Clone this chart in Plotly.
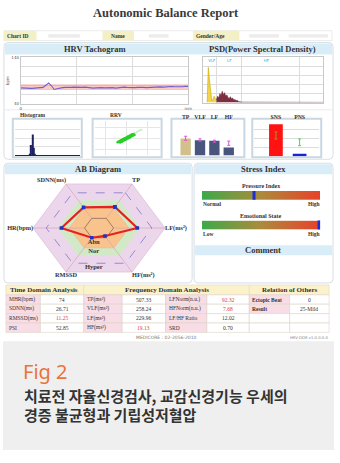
import math
import plotly.graph_objects as go

W, H = 340, 463
SERIF = "Liberation Serif"
SANS = "Noto Sans"
KR = "Noto Sans CJK KR"

# ---------------- data ----------------
report_title = "Autonomic Balance Report"
header_fields = ["Chart ID", "Name", "Gender/Age"]
panel_titles = ["HRV Tachogram", "PSD(Power Spectral Density)", "AB Diagram", "Stress Index", "Comment"]
box_titles = ["Histogram", "RRV"]

tacho_minutes = [0.0, 0.1, 0.2, 0.3, 0.4, 0.5, 0.6, 0.7, 0.8, 0.9,
                 1.0, 1.1, 1.2, 1.3, 1.4, 1.5, 1.6, 1.7, 1.8, 1.9,
                 2.0, 2.1, 2.2, 2.3, 2.4, 2.5, 2.6, 2.7, 2.8, 2.9,
                 3.0, 3.1, 3.2, 3.3, 3.4, 3.5, 3.6, 3.7, 3.8, 3.9,
                 4.0, 4.1, 4.2, 4.3, 4.4, 4.5, 4.6, 4.7, 4.8, 4.9,
                 5.0, 5.1, 5.2, 5.3, 5.4, 5.5, 5.6, 5.7, 5.8, 5.9, 6.0]
tacho_hr = [74.5, 74.0, 73.5, 73.0, 73.5, 74.0, 74.5, 74.0, 75.5, 80.0,
            85.0, 79.0, 71.0, 72.5, 74.5, 75.0, 75.5, 75.0, 75.5, 76.0,
            75.5, 75.0, 75.5, 76.0, 75.0, 74.5, 74.0, 74.5, 75.5, 75.0,
            74.5, 75.0, 75.5, 75.0, 74.0, 75.0, 75.5, 76.0, 75.5, 75.0,
            74.5, 75.0, 75.5, 76.0, 75.5, 75.0, 75.5, 76.0, 75.5, 76.0,
            76.5, 76.0, 77.0, 76.5, 77.5, 77.0, 76.5, 77.5, 77.0, 78.0, 77.5]
hr_band = [71, 81]
tacho_tick_text = ["0", "", "", "min"]

psd_freq = [0.000, 0.005, 0.010, 0.015, 0.020, 0.025, 0.030, 0.035, 0.040,
            0.045, 0.050, 0.055, 0.060, 0.065, 0.070, 0.075, 0.080, 0.085, 0.090,
            0.095, 0.100, 0.105, 0.110, 0.115, 0.120, 0.125, 0.130, 0.135, 0.140,
            0.145, 0.150,
            0.16, 0.17, 0.18, 0.19, 0.20, 0.21, 0.22, 0.23, 0.24, 0.25,
            0.26, 0.27, 0.28, 0.29, 0.30, 0.31, 0.32, 0.33, 0.34, 0.35,
            0.36, 0.37, 0.38, 0.39, 0.40, 0.41, 0.42, 0.43, 0.44, 0.45,
            0.46, 0.47, 0.48, 0.49, 0.50]
psd_power = [0, 78, 50, 18, 4, 7, 14, 9, 6,
             14, 10, 20, 15, 25, 17, 22, 14, 17, 11,
             9, 13, 8, 10, 5, 7, 4, 5, 2, 2,
             1, 1,
             1, 0.5, 1, 1.5, 0.5, 1, 0.5, 1, 2, 1,
             0.5, 1, 1, 0.5, 1.5, 1, 0.5, 1, 2, 1,
             0.5, 1, 0.5, 1, 0.5, 0.5, 1, 0.5, 0.5, 1,
             0.5, 0.5, 0.5, 0.5, 0.5]
psd_band_edges = [0.0, 0.04, 0.15, 0.4]
psd_band_names = ["VLF", "LF", "HF"]

hist_rr = [760, 780, 800, 820, 840]
hist_count = [4, 30, 60, 22, 3]

rrv_rr = [760, 768, 775, 782, 790, 798, 805, 812, 820, 828, 835, 840, 832, 825, 818,
          810, 802, 795, 788, 780, 772, 765, 770, 778, 786, 794, 802, 810, 818, 826, 834]
rrv_rr_faint = [842, 850, 858, 866, 874, 880]

spectral_names = ["TP", "VLF", "LF", "HF"]
spectral_power = [507.33, 258.24, 229.96, 19.13]
spectral_ref_low = [275, 190, 132, 41]
spectral_ref_high = [1200, 457, 275, 195]

ans_names = ["SNS", "PNS"]
ans_values = [3.6, 0.3]
ans_ref_low = [1.95, 1.2]
ans_ref_high = [2.75, 1.95]

radar_axes = ["TP", "LF(ms²)", "HF(ms²)", "RMSSD", "HR(bpm)", "SDNN(ms)"]
radar_values = [0.48, 0.58, 0.18, 0.22, 0.57, 0.47]
radar_zones = ["Abn", "Nor", "Hyper"]

pressure_index = 44
emotional_state = 99
stress_titles = ["Pressure Index", "Emotional State"]
pressure_ends = ["Normal", "High"]
emotion_ends = ["Low", "High"]

table_groups = ["Time Domain Analysis", "Frequency Domain Analysis", "Relation of Others"]
time_labels = ["MHR(bpm)", "SDNN(ms)", "RMSSD(ms)", "PSI"]
time_values = ["74", "26.71", "11.25", "52.85"]
time_flag = [False, False, True, False]
freq_labels = ["TP(ms²)", "VLF(ms²)", "LF(ms²)", "HF(ms²)"]
freq_values = ["507.33", "258.24", "229.96", "19.13"]
freq_flag = [False, False, False, True]
ratio_labels = ["LFNorm(n.u.)", "HFNorm(n.u.)", "LF/HF Ratio", "SRD"]
ratio_values = ["92.32", "7.68", "12.02", "0.70"]
ratio_flag = [True, True, False, False]
rel_labels = ["Ectopic Beat", "Result", "", ""]
rel_values = ["0", "25-Mild", "", ""]

footer_left = "MEDICORE : 02-2056-2010"
footer_right = "HRV-DDR v1.0.0.0.0"
fig_label = "Fig 2"
caption_lines = ["치료전 자율신경검사, 교감신경기능 우세의", "경증 불균형과 기립성저혈압"]


# ---------------- helpers ----------------
def fx(x):
    return x / W


def fy(y):
    return 1 - y / H


def dx(a, b):
    return [fx(a), fx(b)]


def dy(top, bottom):
    return [fy(bottom), fy(top)]


shapes = []
annotations = []


def rect(x0, y0, x1, y1, fill=None, line=None, lw=0.8):
    shapes.append(dict(type="rect", xref="paper", yref="paper", layer="below",
                       x0=fx(x0), x1=fx(x1), y0=fy(y1), y1=fy(y0),
                       fillcolor=fill or "rgba(0,0,0,0)",
                       line=dict(color=line or "rgba(0,0,0,0)", width=lw if line else 0)))


def rrect(x0, y0, x1, y1, r=4, fill="white", line="#d3dbe2", lw=0.9):
    rx, ry = r / W, r / H
    X0, X1, T, B = fx(x0), fx(x1), fy(y0), fy(y1)
    p = (f"M{X0+rx},{T} L{X1-rx},{T} Q{X1},{T} {X1},{T-ry} L{X1},{B+ry} Q{X1},{B} {X1-rx},{B} "
         f"L{X0+rx},{B} Q{X0},{B} {X0},{B+ry} L{X0},{T-ry} Q{X0},{T} {X0+rx},{T} Z")
    shapes.append(dict(type="path", path=p, xref="paper", yref="paper", layer="below",
                       fillcolor=fill, line=dict(color=line, width=lw)))


def hline(x0, x1, y, color="#e2e2e2", lw=0.8):
    shapes.append(dict(type="line", xref="paper", yref="paper", layer="below",
                       x0=fx(x0), x1=fx(x1), y0=fy(y), y1=fy(y), line=dict(color=color, width=lw)))


def vline(x, y0, y1, color="#e2e2e2", lw=0.8):
    shapes.append(dict(type="line", xref="paper", yref="paper", layer="below",
                       x0=fx(x), x1=fx(x), y0=fy(y0), y1=fy(y1), line=dict(color=color, width=lw)))


def txt(x, y, s, size, color="#333", bold=False, family=SERIF, xanchor="center", yanchor="middle"):
    annotations.append(dict(x=fx(x), y=fy(y), xref="paper", yref="paper",
                            text=f"<b>{s}</b>" if bold else s, showarrow=False,
                            font=dict(family=family, size=size, color=color),
                            xanchor=xanchor, yanchor=yanchor, borderpad=0))


def axis(domain, rng=None, **kw):
    d = dict(domain=domain, showgrid=False, zeroline=False, showticklabels=False,
             ticks="", fixedrange=True)
    if rng is not None:
        d["range"] = rng
    d.update(kw)
    return d


fig = go.Figure()

# ---------------- page furniture ----------------
txt(167, 10, report_title, 12.5, color="#3a3a3a", bold=True)

# header row
rect(3, 28, 336, 38, fill="white", line="#dedede", lw=0.6)
rect(3, 28, 36, 38, fill="#f3f0c6")
rect(103, 28, 135, 38, fill="#f3f0c6")
rect(195, 28, 242, 38, fill="#f3f0c6")
for (a, b) in [(48, 80), (150, 170), (252, 282), (292, 332)]:
    rect(a, 31.5, b, 35, fill="#ececec")
txt(5, 33, header_fields[0], 5.5, bold=True, xanchor="left")
txt(119, 33, header_fields[1], 5.5, bold=True)
txt(197, 33, header_fields[2], 5.5, bold=True, xanchor="left")

# panel 1
rrect(3, 40, 337, 158)
rect(4, 41, 336, 52, fill="#d9edf8")
txt(95, 46.5, panel_titles[0], 8.5, bold=True)
txt(265, 46.5, panel_titles[1], 8.5, bold=True)
hline(4, 336, 108, color="#e4e4e4")

# sub boxes
for (a, b) in [(12, 82), (93, 163), (173, 247), (255, 325)]:
    rect(a, 117, b, 156, fill="white", line="#c9d7e3", lw=2)
txt(32, 113, box_titles[0], 5.5, bold=True)
txt(117, 113, box_titles[1], 5.5, bold=True)

# panel 2
rrect(3, 162, 194, 283)
rect(4, 163, 193, 173, fill="#d9edf8")
txt(98, 167.5, panel_titles[2], 8.5, bold=True)
rrect(196, 162, 337, 283)
rect(197, 163, 336, 173, fill="#d9edf8")
txt(266, 167.5, panel_titles[3], 8.5, bold=True)
rect(197, 245, 336, 255, fill="#d9edf8")
txt(266, 250, panel_titles[4], 8.5, bold=True)

# stress texts
txt(264, 185, stress_titles[0], 6, bold=True)
txt(204, 203.5, pressure_ends[0], 5.5, bold=True, xanchor="left")
txt(325, 203.5, pressure_ends[1], 5.5, bold=True, xanchor="right")
txt(264, 215, stress_titles[1], 6, bold=True)
txt(204, 233.5, emotion_ends[0], 5.5, bold=True, xanchor="left")
txt(325, 233.5, emotion_ends[1], 5.5, bold=True, xanchor="right")

# ---------------- table (cells drawn as shapes + text) ----------------
col_edges = [5, 40, 84, 123, 167, 209, 252, 293, 333]
row_edges = [295, 304.5, 314, 323.5, 333]
BORDER = "#ddd3c8"
PINK = "#f8dde6"
RED = "#e23b3b"
DARK = "#333"

rect(5, 285, 333, 295, fill="#fbf2c9", line=BORDER, lw=0.6)
vline(84, 285, 295, color=BORDER, lw=0.6)
vline(252, 285, 295, color=BORDER, lw=0.6)
txt(44, 290, table_groups[0], 7, bold=True)
txt(168, 290, table_groups[1], 7, bold=True)
txt(293, 290, table_groups[2], 7, bold=True)

columns = [
    (time_labels, None, True), (time_values, time_flag, False),
    (freq_labels, None, True), (freq_values, freq_flag, False),
    (ratio_labels, None, True), (ratio_values, ratio_flag, False),
    (rel_labels, None, True), (rel_values, None, False),
]
for c, (vals, flags, is_label) in enumerate(columns):
    x0, x1 = col_edges[c], col_edges[c + 1]
    for r, v in enumerate(vals):
        y0, y1 = row_edges[r], row_edges[r + 1]
        fill = PINK if (is_label and v != "") or (is_label and c < 6) else "white"
        rect(x0, y0, x1, y1, fill=fill, line=BORDER, lw=0.6)
        if v == "":
            continue
        color = RED if (flags is not None and flags[r]) else DARK
        bold = c == 6
        if is_label:
            txt(x0 + 2, (y0 + y1) / 2, v, 5.5, color=color, bold=bold, xanchor="left")
        else:
            txt((x0 + x1) / 2, (y0 + y1) / 2, v, 5.5, color=color)

# footer
txt(168, 338, footer_left, 4.5, color="#777", family="DejaVu Sans")
txt(333, 338, footer_right, 3.8, color="#888", family="DejaVu Sans", xanchor="right")

# caption
rect(2, 342, 338, 452, fill="#efefef")
txt(21, 373, fig_label, 20, color="#e8743b", family=SANS, xanchor="left")
txt(22, 397, caption_lines[0], 15, color="#333", family=KR, xanchor="left", bold=True)
txt(22, 416, caption_lines[1], 15, color="#333", family=KR, xanchor="left", bold=True)

# ---------------- tachogram ----------------
fig.add_trace(go.Scatter(x=[tacho_minutes[0], tacho_minutes[-1]], y=[hr_band[0]] * 2, mode="lines",
                         line=dict(color="rgba(240,130,120,0.6)", width=0.6), xaxis="x", yaxis="y",
                         hoverinfo="skip"))
fig.add_trace(go.Scatter(x=[tacho_minutes[0], tacho_minutes[-1]], y=[hr_band[1]] * 2, mode="lines",
                         fill="tonexty", fillcolor="rgba(245,160,150,0.55)",
                         line=dict(color="rgba(240,130,120,0.6)", width=0.6), xaxis="x", yaxis="y",
                         hoverinfo="skip"))
fig.add_trace(go.Scatter(x=tacho_minutes, y=tacho_hr, mode="lines",
                         line=dict(color="#6f5fd6", width=1.1), xaxis="x", yaxis="y"))

# ---------------- PSD ----------------
psd_colors = [("#f2d54a", "#c9a800"), ("#7d2f42", "#6a2436"), ("#5a3a48", "#5a3a48")]
band_hi = [psd_band_edges[1], psd_band_edges[2], psd_freq[-1]]
for i, name in enumerate(psd_band_names):
    lo, hi = psd_band_edges[i], band_hi[i]
    xs = [f for f in psd_freq if lo <= f <= hi]
    ys = [p for f, p in zip(psd_freq, psd_power) if lo <= f <= hi]
    fig.add_trace(go.Scatter(x=xs, y=ys, mode="lines", fill="tozeroy",
                             fillcolor=psd_colors[i][0], line=dict(color=psd_colors[i][1], width=0.6),
                             xaxis="x2", yaxis="y2", name=name))
label_hi = psd_band_edges[1:] + [psd_band_edges[-1]]
band_mid = [(psd_band_edges[i] + (psd_band_edges[i + 1] if i < 2 else 0.36)) / 2 for i in range(3)]
fig.add_trace(go.Scatter(x=band_mid, y=[93] * 3, mode="text", text=psd_band_names,
                         textfont=dict(family="DejaVu Sans", size=4, color="#2aa6d8"),
                         xaxis="x2", yaxis="y2", cliponaxis=False))

# ---------------- histogram ----------------
fig.add_trace(go.Bar(x=hist_rr, y=hist_count, width=20, marker=dict(color="#1c2262", line=dict(width=0)),
                     xaxis="x3", yaxis="y3"))

# ---------------- RRV ----------------
fig.add_trace(go.Scatter(x=rrv_rr_faint[:-1], y=rrv_rr_faint[1:], mode="markers",
                         marker=dict(color="#bfeebf", size=2), xaxis="x4", yaxis="y4"))
fig.add_trace(go.Scatter(x=rrv_rr[:-1], y=rrv_rr[1:], mode="markers",
                         marker=dict(color="#27cf27", size=2.6), xaxis="x4", yaxis="y4"))

# ---------------- spectral bars ----------------
idx4 = list(range(len(spectral_names)))
fig.add_trace(go.Bar(x=idx4, y=spectral_power, width=0.72,
                     marker=dict(color=["#d3bf8a", "#4a557e", "#4a557e", "#4a557e"], line=dict(width=0)),
                     xaxis="x5", yaxis="y5"))
fig.add_trace(go.Scatter(x=idx4, y=spectral_ref_high, mode="markers",
                         marker=dict(color="rgba(0,0,0,0)", size=1),
                         error_y=dict(type="data", symmetric=False, array=[0] * 4,
                                      arrayminus=[h - l for h, l in zip(spectral_ref_high, spectral_ref_low)],
                                      color="#e24ee0", thickness=1, width=1.5),
                         xaxis="x5", yaxis="y5"))

# ---------------- SNS / PNS ----------------
fig.add_trace(go.Bar(x=[0, 1], y=ans_values, width=0.58,
                     marker=dict(color=["#ff1212", "#1a22d2"], line=dict(width=0)),
                     xaxis="x6", yaxis="y6"))
for i, c in enumerate(["#a8902a", "#4ad84a"]):
    fig.add_trace(go.Scatter(x=[i], y=[ans_ref_high[i]], mode="markers",
                             marker=dict(color="rgba(0,0,0,0)", size=1),
                             error_y=dict(type="data", symmetric=False, array=[0],
                                          arrayminus=[ans_ref_high[i] - ans_ref_low[i]],
                                          color=c, thickness=1, width=1.5),
                             xaxis="x6", yaxis="y6"))

# ---------------- AB diagram (radar) ----------------
angles = [math.radians(60 - 60 * i) for i in range(len(radar_axes))]


def hexagon(r):
    xs = [r * math.cos(a) for a in angles] + [r * math.cos(angles[0])]
    ys = [r * math.sin(a) for a in angles] + [r * math.sin(angles[0])]
    return xs, ys


rings = [(1.0, "#ecd6eb", "#dcbcd8"), (0.62, "#d2e9c8", "#d2e9c8"), (0.45, "#f9c38e", "#f3b57e")]
for r, fc, lc in rings:
    hx, hy = hexagon(r)
    fig.add_trace(go.Scatter(x=hx, y=hy, mode="lines", fill="toself", fillcolor=fc,
                             line=dict(color=lc, width=0.7), xaxis="x7", yaxis="y7", hoverinfo="skip"))
for a in angles:
    fig.add_trace(go.Scatter(x=[0.22 * math.cos(a), math.cos(a)], y=[0.22 * math.sin(a), math.sin(a)],
                             mode="lines", line=dict(color="#d9a3b6", width=0.7),
                             xaxis="x7", yaxis="y7", hoverinfo="skip"))
hx, hy = hexagon(0.8)
fig.add_trace(go.Scatter(x=hx, y=hy, mode="lines", line=dict(color="#7468c6", width=0.7, dash="dash"),
                         xaxis="x7", yaxis="y7", hoverinfo="skip"))
hx, hy = hexagon(0.22)
fig.add_trace(go.Scatter(x=hx, y=hy, mode="lines", line=dict(color="#8c6a58", width=0.8),
                         xaxis="x7", yaxis="y7", hoverinfo="skip"))
zone_r = [(0.22 + 0.45) / 2, (0.45 + 0.62) / 2, (0.8 + 1.0) / 2]
fig.add_trace(go.Scatter(x=[-0.08] * 3, y=[-r * math.sin(math.radians(60)) for r in zone_r], mode="text",
                         text=[f"<b>{z}</b>" for z in radar_zones],
                         textfont=dict(family=SERIF, size=6.5, color="#333"),
                         xaxis="x7", yaxis="y7", cliponaxis=False))
px_ = [v * math.cos(a) for v, a in zip(radar_values, angles)]
py_ = [v * math.sin(a) for v, a in zip(radar_values, angles)]
fig.add_trace(go.Scatter(x=px_ + [px_[0]], y=py_ + [py_[0]], mode="lines+markers",
                         line=dict(color="#e4221e", width=2.2),
                         marker=dict(symbol="square", size=3.6, color="#2232c8"),
                         xaxis="x7", yaxis="y7"))
lab_pos = ["top right", "middle right", "bottom right", "bottom center", "middle left", "top left"]
fig.add_trace(go.Scatter(x=[math.cos(a) for a in angles], y=[math.sin(a) for a in angles],
                         mode="text", text=[f"<b>{s}</b>" for s in radar_axes], textposition=lab_pos,
                         textfont=dict(family=SERIF, size=6.3, color="#333"),
                         xaxis="x7", yaxis="y7", cliponaxis=False))

# ---------------- stress gradient bars ----------------
grad_scale = [[0, "#3da94a"], [0.5, "#ad8a3a"], [1, "#e9402a"]]
for xa, ya, val in [("x8", "y8", pressure_index), ("x9", "y9", emotional_state)]:
    fig.add_trace(go.Heatmap(z=[[0, 1], [0, 1]], x=[0, 100], y=[0, 1], zsmooth="best",
                             colorscale=grad_scale, showscale=False, xaxis=xa, yaxis=ya, hoverinfo="skip"))
    fig.add_trace(go.Scatter(x=[val, val], y=[-0.08, 1.08], mode="lines",
                             line=dict(color="#1b2fd6", width=3), xaxis=xa, yaxis=ya, cliponaxis=False))

# ---------------- layout ----------------
GRID = "#dcdcdc"
fig.update_layout(
    width=W, height=H, margin=dict(l=0, r=0, t=0, b=0),
    paper_bgcolor="white", plot_bgcolor="rgba(0,0,0,0)", showlegend=False,
    shapes=shapes, annotations=annotations,
    xaxis=axis(dx(20, 190), [0, 6], anchor="y", showgrid=True, gridcolor=GRID, gridwidth=0.7,
               tickvals=[0, 2, 4, 6], ticktext=tacho_tick_text, showticklabels=True,
               tickfont=dict(size=4, color="#555", family="DejaVu Sans"),
               showline=True, mirror=True, linecolor="#c8c8c8", linewidth=0.8),
    yaxis=axis(dy(55, 102), [40, 140], anchor="x", showgrid=True, gridcolor=GRID, gridwidth=0.7,
               tickvals=[40, 60, 80, 100, 120, 140], ticktext=["40", "", "", "", "", "140"],
               showticklabels=True, tickfont=dict(size=4, color="#555", family="DejaVu Sans"),
               title=dict(text="bpm", font=dict(size=4, color="#555", family="DejaVu Sans"), standoff=1),
               showline=True, mirror=True, linecolor="#c8c8c8", linewidth=0.8),
    xaxis2=axis(dx(205, 327), [-0.018, 0.5], anchor="y2", showgrid=True, gridcolor=GRID, gridwidth=0.7,
                tickvals=psd_band_edges[1:], showline=True, mirror=True, linecolor="#c8c8c8", linewidth=0.8),
    yaxis2=axis(dy(55, 100.7), [0, 100], anchor="x2", showgrid=True, gridcolor=GRID, gridwidth=0.7, dtick=20,
                showline=True, mirror=True, linecolor="#c8c8c8", linewidth=0.8),
    xaxis3=axis(dx(14, 80), [500, 1600], anchor="y3", showline=True, linecolor="#1c2262", linewidth=1.2),
    yaxis3=axis(dy(119, 154), [0, 100], anchor="x3", showgrid=True, gridcolor="#e2e2e2", gridwidth=0.7, dtick=25),
    xaxis4=axis(dx(95, 161), [650, 960], anchor="y4", showgrid=True, gridcolor="#e6e6e6", gridwidth=0.6, dtick=100),
    yaxis4=axis(dy(119, 154), [650, 960], anchor="x4", showgrid=True, gridcolor="#e6e6e6", gridwidth=0.6, dtick=100),
    xaxis5=axis(dx(175, 245), [-0.85, 3.95], anchor="y5", side="top", tickvals=idx4,
                ticktext=[f"<b>{s}</b>" for s in spectral_names], showticklabels=True,
                tickfont=dict(family=SERIF, size=5.8, color="#333")),
    yaxis5=axis(dy(119, 154), [0, 5.58], anchor="x5", type="log"),
    xaxis6=axis(dx(257, 323), [-0.917, 1.83], anchor="y6", side="top", tickvals=[0, 1],
                ticktext=[f"<b>{s}</b>" for s in ans_names], showticklabels=True,
                tickfont=dict(family=SERIF, size=5.8, color="#333")),
    yaxis6=axis(dy(119, 155), [0, 4], anchor="x6", showgrid=True, gridcolor="#dcdcdc", gridwidth=0.7, dtick=1),
    xaxis7=axis(dx(0, 195), [-1.485, 1.425], anchor="y7"),
    yaxis7=axis(dy(173, 283), [-1.08, 1.06], anchor="x7"),
    xaxis8=axis(dx(204, 324), [0, 100], anchor="y8"),
    yaxis8=axis(dy(190, 199), [0, 1], anchor="x8"),
    xaxis9=axis(dx(204, 324), [0, 100], anchor="y9"),
    yaxis9=axis(dy(220, 229), [0, 1], anchor="x9"),
)

fig.write_html("out.html")
